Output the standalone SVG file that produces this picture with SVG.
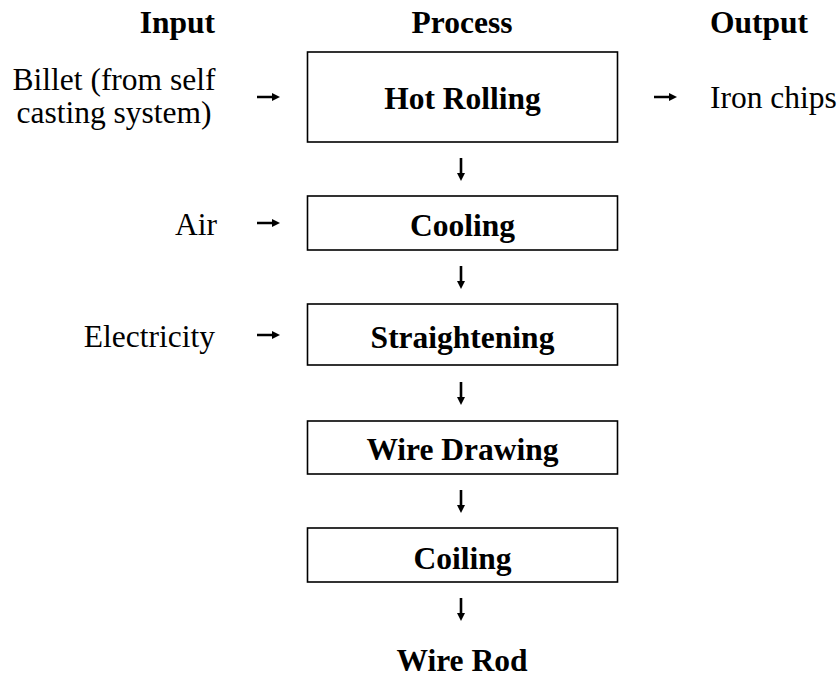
<svg xmlns="http://www.w3.org/2000/svg" width="838" height="679" viewBox="0 0 838 679">
<style>
text{font-size:31.5px;fill:#000}
.b{font-weight:bold}
.box{fill:#fff;stroke:#000;stroke-width:1.6}
.sh{stroke:#000;stroke-width:2.6;fill:none}
.hd{fill:#000;stroke:none}
</style>
<rect width="838" height="679" fill="#fff"/>
<g font-family="'Liberation Serif', 'Times New Roman', Times, 'DejaVu Serif', serif">
<g id="headers">
<text class="b" x="215" y="33" text-anchor="end">Input</text>
<text class="b" x="462" y="33" text-anchor="middle">Process</text>
<text class="b" x="710" y="33">Output</text>
</g>
<g id="in-billet">
<text x="114" y="90" text-anchor="middle">Billet (from self</text>
<text x="114" y="123" text-anchor="middle">casting system)</text>
</g>
<g id="in-air"><text x="217" y="235" text-anchor="end">Air</text></g>
<g id="in-electricity"><text x="215" y="347" text-anchor="end">Electricity</text></g>
<g id="out-iron"><text x="710" y="108">Iron chips</text></g>
<g id="n-hot-rolling">
<rect class="box" x="307.5" y="52" width="310" height="90"/>
<text class="b" x="462.5" y="109" text-anchor="middle">Hot Rolling</text>
</g>
<g id="n-cooling">
<rect class="box" x="307.5" y="196" width="310" height="54"/>
<text class="b" x="462.5" y="236" text-anchor="middle">Cooling</text>
</g>
<g id="n-straightening">
<rect class="box" x="307.5" y="304" width="310" height="61"/>
<text class="b" x="462.5" y="348" text-anchor="middle">Straightening</text>
</g>
<g id="n-wire-drawing">
<rect class="box" x="307.5" y="421" width="310" height="53"/>
<text class="b" x="462.5" y="460" text-anchor="middle">Wire Drawing</text>
</g>
<g id="n-coiling">
<rect class="box" x="307.5" y="528" width="310" height="54"/>
<text class="b" x="462.5" y="569" text-anchor="middle">Coiling</text>
</g>
<g id="n-wire-rod">
<text class="b" x="462" y="671" text-anchor="middle">Wire Rod</text>
</g>
</g>
<g id="connectors">
<path class="sh" d="M257 97H273M257 223H273M257 335H273M654 97H670"/>
<path class="hd" d="M272 93L280 97L272 101ZM272 219L280 223L272 227ZM272 331L280 335L272 339ZM669 93L677 97L669 101Z"/>
<path class="sh" d="M461 158V174M461 266V282M461 382V398M461 490V506M461 598V614"/>
<path class="hd" d="M457 173L461 181L465 173ZM457 281L461 289L465 281ZM457 397L461 405L465 397ZM457 505L461 513L465 505ZM457 613L461 621L465 613Z"/>
</g>
</svg>
